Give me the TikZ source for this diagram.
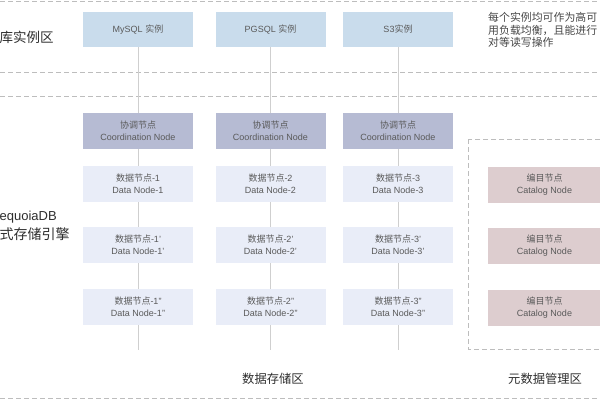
\documentclass[tikz,border=0pt]{standalone}
\usepackage{fontspec}
\setmainfont{Liberation Sans}
\newfontfamily\cjk{Noto Sans CJK SC}
\definecolor{instc}{HTML}{C9DCEC}
\definecolor{coordc}{HTML}{B6BBD3}
\definecolor{datac}{HTML}{E9EDF8}
\definecolor{catc}{HTML}{DDCDCF}
\definecolor{dashc}{HTML}{BDBDBD}
\definecolor{linec}{HTML}{CFCFCF}
\definecolor{boxtxt}{HTML}{5A5A5A}
\definecolor{lbltxt}{HTML}{2E2E2E}
\tikzset{
  boxbase/.style={minimum width=110pt, minimum height=36pt, inner sep=0pt, align=center, text=boxtxt, font=\fontsize{9}{12}\selectfont},
  inst/.style={boxbase, fill=instc, minimum height=35pt},
  coordn/.style={boxbase, fill=coordc},
  datan/.style={boxbase, fill=datac},
  catn/.style={boxbase, fill=catc, minimum width=113pt},
  sepline/.style={dashc, line width=0.9pt, dash pattern=on 5pt off 3pt},
  vline/.style={linec, line width=0.8pt},
  zonelbl/.style={text=lbltxt, inner sep=0pt, align=left},
}
\begin{document}
\begin{tikzpicture}[x=1pt,y=-1pt]
\useasboundingbox (0,0) rectangle (600,400);
\fill[white] (0,0) rectangle (600,400);
% separators
\draw[sepline] (0,1.5) -- (600,1.5);
\draw[sepline] (0,72) -- (600,72);
\draw[sepline] (0,96) -- (600,96);
\draw[sepline] (0,398) -- (600,398);
% catalog zone
\draw[sepline] (468,139) rectangle (640,349);
% columns
\foreach \c/\x/\lab/\n in {1/138/{MySQL {\cjk 实例}}/1, 2/270.5/{PGSQL {\cjk 实例}}/2, 3/398/{S3{\cjk 实例}}/3}{
  \node[inst] (i\c) at (\x,29.5) {\lab};
  \node[coordn] (c\c) at (\x,131) {{\cjk 协调节点}\\Coordination Node};
  \node[datan] (a\c) at (\x,184) {{\cjk 数据节点}-\n\\Data Node-\n};
  \node[datan] (b\c) at (\x,245) {{\cjk 数据节点}-\n'\\Data Node-\n'};
  \node[datan] (d\c) at (\x,307) {{\cjk 数据节点}-\n"\\Data Node-\n"};
  \coordinate (e\c) at (\x,350);
}
\foreach \c in {1,2,3}{
  \draw[vline] (i\c.south) -- (c\c.north);
  \draw[vline] (c\c.south) -- (a\c.north);
  \draw[vline] (a\c.south) -- (b\c.north);
  \draw[vline] (b\c.south) -- (d\c.north);
  \draw[vline] (d\c.south) -- (e\c);
}
% catalog nodes
\node[catn] (k1) at (544.5,185) {{\cjk 编目节点}\\Catalog Node};
\node[catn] (k2) at (544.5,246) {{\cjk 编目节点}\\Catalog Node};
\node[catn] (k3) at (544.5,308) {{\cjk 编目节点}\\Catalog Node};
% labels
\node[zonelbl, anchor=west, font=\cjk\fontsize{13.5}{16}\selectfont] (z1) at (-0.5,37) {库实例区};
\node[zonelbl, anchor=west, font=\fontsize{13}{16}\selectfont] (z2) at (-0.5,217) {equoiaDB};
\node[zonelbl, anchor=west, font=\cjk\fontsize{14}{16}\selectfont] (z3) at (-0.5,234) {式存储引擎};
\node[zonelbl, anchor=west, font=\cjk\fontsize{12.3}{15}\selectfont] (z4) at (242,379) {数据存储区};
\node[zonelbl, anchor=west, font=\cjk\fontsize{12.3}{15}\selectfont] (z5) at (508,379) {元数据管理区};
\node[zonelbl, anchor=north west, text=boxtxt!80!black, font=\cjk\fontsize{10.9}{12.6}\selectfont] (note) at (488,12) {每个实例均可作为高可\\用负载均衡，且能进行\\对等读写操作};
\end{tikzpicture}
\end{document}
